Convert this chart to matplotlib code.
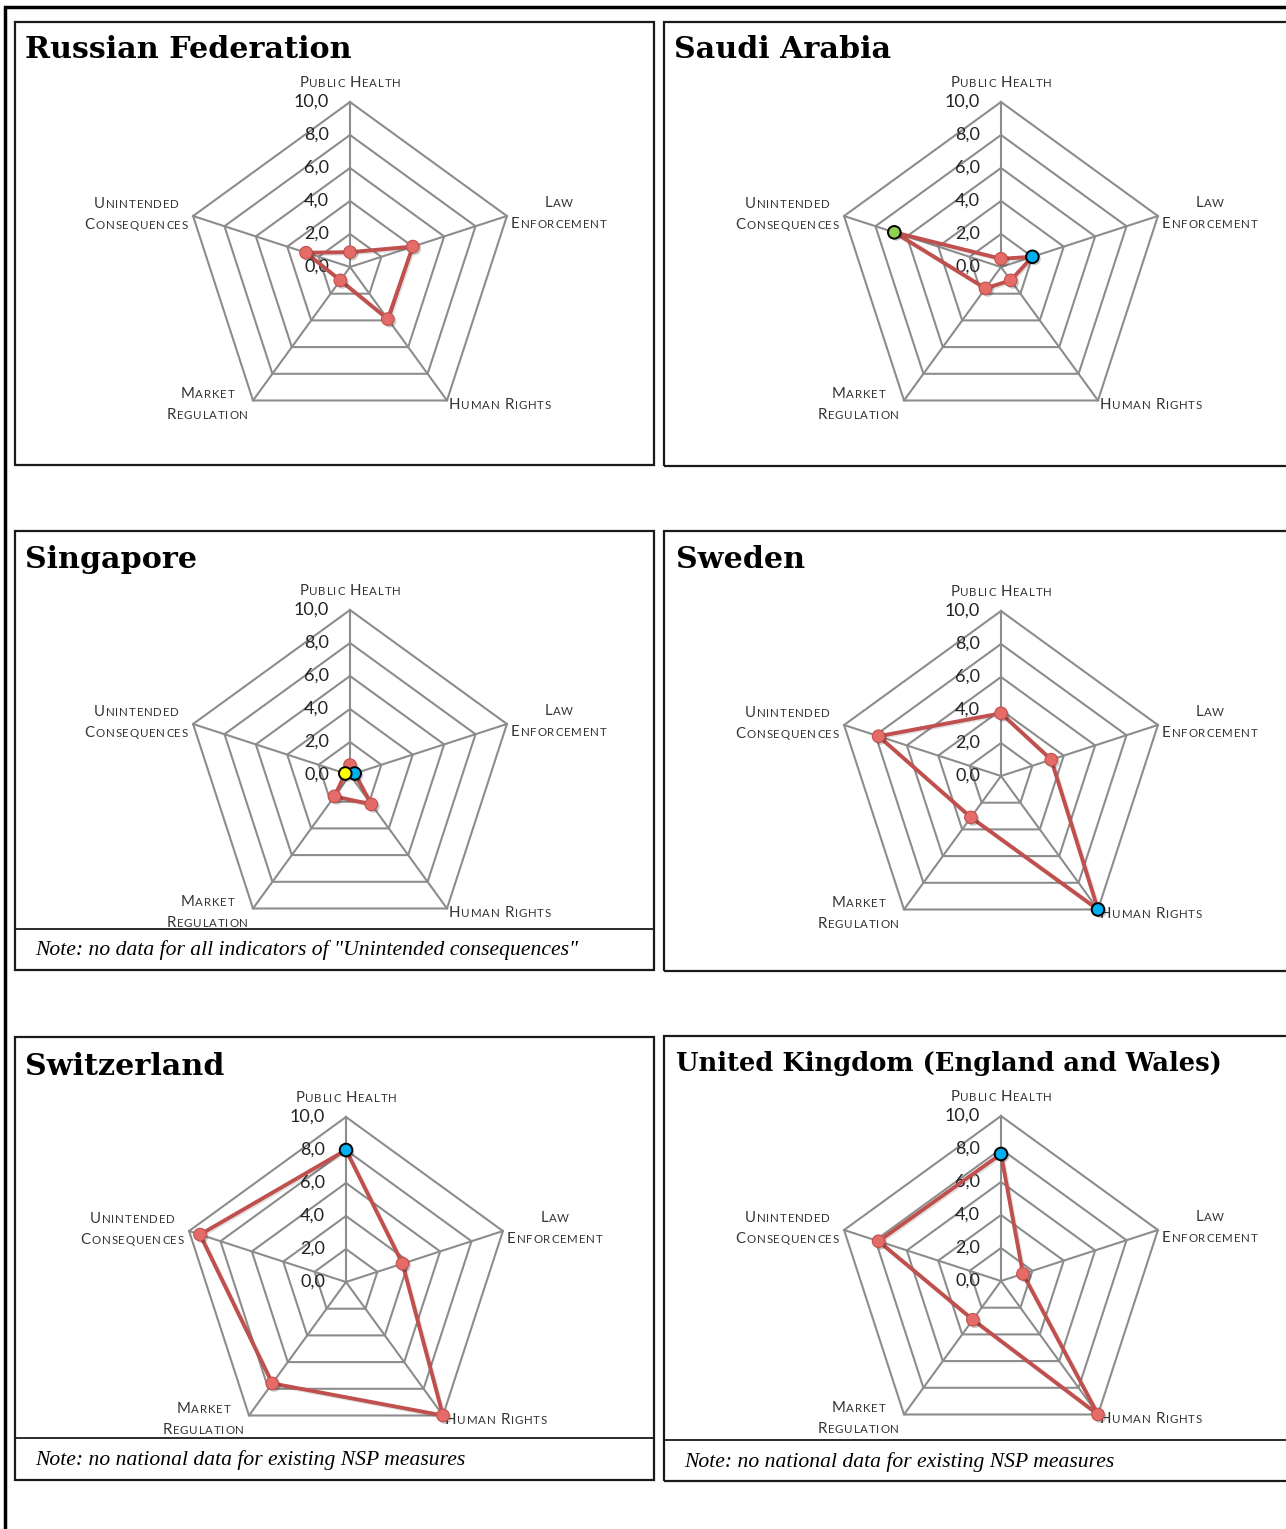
import numpy as np
import matplotlib
matplotlib.use("Agg")
import matplotlib.pyplot as plt
import matplotlib.patheffects as pe
from matplotlib.patches import Rectangle
from matplotlib.lines import Line2D
from matplotlib.font_manager import FontProperties

W, H = 1286, 1529

# data
categories = ["Public Health", "Law\nEnforcement", "Human Rights",
              "Market\nRegulation", "Unintended\nConsequences"]
ticks = [0, 2, 4, 6, 8, 10]

countries = ["Russian Federation", "Saudi Arabia", "Singapore", "Sweden",
             "Switzerland", "United Kingdom (England and Wales)"]
russia = [0.9, 4.0, 3.9, 1.0, 2.8]
saudi = [0.5, 2.0, 1.0, 1.6, 6.8]
singapore = [0.6, 0.3, 2.2, 1.6, 0.3]
sweden = [3.8, 3.2, 10.0, 3.1, 7.8]
switzerland = [8.0, 3.6, 10.0, 7.6, 9.3]
uk = [7.7, 1.4, 10.0, 2.9, 7.8]
values = [russia, saudi, singapore, sweden, switzerland, uk]

notes = [None, None,
         'Note: no data for all indicators of "Unintended consequences"',
         None,
         "Note: no national data for existing NSP measures",
         "Note: no national data for existing NSP measures"]

# highlighted points (index in categories -> marker colour)
BLUE, GREEN, YELLOW = "#00b0f0", "#92d050", "#ffff00"
highlights = [{}, {1: BLUE, 4: GREEN}, {1: BLUE, 4: YELLOW}, {2: BLUE},
              {0: BLUE}, {0: BLUE}]

# layout in pixels: box left, top, right, bottom, centre x, centre y,
# title x, title baseline, note separator y, max title width
layout = [
    (15, 22, 654, 465, 350, 267, 25, 58, None, 330),
    (664, 22, 1292, 466, 1001, 267, 674, 58, None, 218),
    (15, 531, 654, 970, 350, 775, 25, 568, 929, 175),
    (664, 531, 1292, 971, 1001, 776, 676, 568, None, 130),
    (15, 1037, 654, 1480, 346, 1282, 25, 1075, 1438, 205),
    (664, 1036, 1292, 1481, 1001, 1281, 676, 1071, 1440, 546),
]
R = 165

GRID = "#8c8c8c"
LINE = "#c0504d"
MFACE = "#e46b67"
LABEL = "#333333"

fig = plt.figure(figsize=(W / 100, H / 100), dpi=100)
renderer = fig.canvas.get_renderer()

big_fp = FontProperties(family="Lato", size=10.8)
small_fp = FontProperties(family="Lato", size=8.3)
tick_fp = FontProperties(family="Lato", size=13)
TRACK = 0.85


def fx(x):
    return x / W


def fy(y):
    return 1 - y / H


def text_width(s, fp):
    w, h, d = renderer.get_text_width_height_descent(s, fp, ismath=False)
    return w


def axis_label(ax, theta, label, ha, dx, dy):
    # small caps drawn letter by letter with a bit of tracking
    rows, widths = [], []
    space = 4
    for line in label.split("\n"):
        row, x = [], 0
        for k, word in enumerate(line.split(" ")):
            if k:
                x += space
            for j, ch in enumerate(word):
                fp = big_fp if j == 0 else small_fp
                ch = ch.upper()
                row.append((x, ch, fp))
                x += text_width(ch, fp) + TRACK
        rows.append(row)
        widths.append(x - TRACK)
    bw = max(widths)
    centre = {"center": dx, "left": dx + bw / 2, "right": dx - bw / 2}[ha]
    for i, (row, w) in enumerate(zip(rows, widths)):
        x0 = centre - w / 2
        for x, s, fp in row:
            ax.annotate(s, xy=(theta, 10), xytext=(x0 + x, dy - i * 21),
                        textcoords="offset pixels", ha="left", va="baseline",
                        fontproperties=fp, color=LABEL, annotation_clip=False)


# offsets of axis labels from the outer vertex (pixels, y up)
label_pos = [("center", 0, 15), ("left", 4, 9), ("left", 2, -9),
             ("right", -5, 2), ("right", -5, 8)]

# outer frame
fig.add_artist(Rectangle((fx(5), fy(1560)), fx(1320), 1553 / H, fill=False,
                         ec="black", lw=2.5, transform=fig.transFigure))

angles = np.arange(len(categories)) * 2 * np.pi / len(categories)
closed = np.append(angles, angles[0])

for name, vals, note, hl, lay in zip(countries, values, notes, highlights, layout):
    bl, bt, br, bb, cx, cy, tx, ty, sep, tw = lay
    fig.add_artist(Rectangle((fx(bl), fy(bb)), fx(br - bl), (bb - bt) / H,
                             fill=False, ec="#1a1a1a", lw=1.6,
                             transform=fig.transFigure))
    tfp = FontProperties(family="DejaVu Serif", weight="bold", size=21.7)
    tfp.set_size(21.7 * min(1.0, tw / text_width(name, tfp)))
    fig.text(fx(tx), fy(ty), name, fontproperties=tfp,
             va="baseline", ha="left", color="black")
    if sep is not None:
        fig.add_artist(Line2D([fx(bl), fx(br)], [fy(sep), fy(sep)],
                              color="#1a1a1a", lw=1.3,
                              transform=fig.transFigure))
        fig.text(fx(bl + 20), fy((sep + bb) / 2 + 6), note,
                 family="Liberation Serif", style="italic", size=15.6,
                 va="baseline", ha="left", color="black")

    ax = fig.add_axes([fx(cx - R), fy(cy + R), 2 * R / W, 2 * R / H],
                      projection="polar")
    ax.set_theta_offset(np.pi / 2)
    ax.set_theta_direction(-1)
    ax.set_ylim(0, 10)
    ax.set_xticks([])
    ax.set_yticks([])
    ax.grid(False)
    ax.spines["polar"].set_visible(False)
    ax.patch.set_alpha(0)

    for v in ticks[1:]:
        ax.plot(closed, [v] * len(closed), color=GRID, lw=1.5, zorder=1,
                clip_on=False)
    for a in angles:
        ax.plot([a, a], [0, 10], color=GRID, lw=1.5, zorder=1, clip_on=False)

    for v in ticks:
        ax.annotate(f"{v:.1f}".replace(".", ","), xy=(0, v), xytext=(-21, 0),
                    textcoords="offset pixels", ha="right", va="center",
                    fontproperties=tick_fp, color="#222222",
                    annotation_clip=False)

    for a, lab, (ha, dx, dy) in zip(angles, categories, label_pos):
        axis_label(ax, a, lab, ha, dx, dy)

    shadow = [pe.SimpleLineShadow(offset=(1, -1), alpha=0.12), pe.Normal()]
    ax.plot(closed, np.append(vals, vals[0]), color=LINE, lw=2.8, zorder=3,
            clip_on=False, solid_joinstyle="round", path_effects=shadow)
    faces = [hl.get(i, MFACE) for i in range(len(vals))]
    edges = ["black" if i in hl else LINE for i in range(len(vals))]
    widths = [1.4 if i in hl else 0.8 for i in range(len(vals))]
    ax.scatter(angles, vals, s=82, c=faces, edgecolors=edges, linewidths=widths,
               zorder=4, clip_on=False,
               path_effects=[pe.SimplePatchShadow(offset=(1.5, -1.5),
                                                  shadow_rgbFace="black",
                                                  alpha=0.22),
                             pe.Normal()])

fig.savefig("out.png", dpi=100)
